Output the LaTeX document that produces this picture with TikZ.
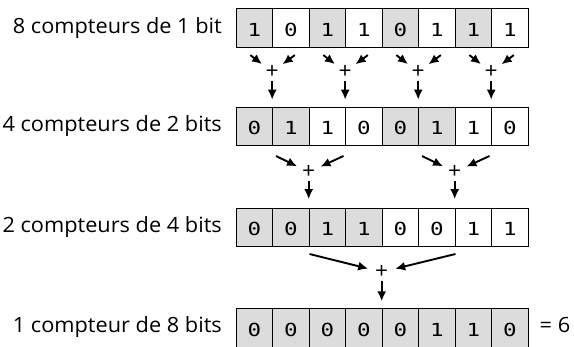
\documentclass[tikz,border=0pt]{standalone}
\usepackage{fontspec}
\setmainfont[FakeStretch=1.035]{Open Sans}
\newfontfamily\bitfont[FakeStretch=1.25]{DejaVu Sans Mono}
\usetikzlibrary{arrows.meta}
\definecolor{cellgrey}{RGB}{220,220,220}
\begin{document}
\begin{tikzpicture}[x=1pt,y=-1pt]
\tikzset{
  cell/.style={draw=black, line width=0.8pt, anchor=north west,
    minimum width=36.5pt, minimum height=38.5pt, inner sep=0pt,
    text height=17pt, text depth=0pt,
    font=\bitfont\fontsize{18}{18}\selectfont},
  lbl/.style={anchor=base east, inner sep=0pt,
    font=\fontsize{21}{21}\selectfont},
  plus/.style={circle, inner sep=0pt, minimum size=18pt,
    font=\fontsize{22}{22}\selectfont},
  arr/.style={-{Latex[length=10pt,width=9pt]}, line width=1.9pt},
}
\useasboundingbox (0,0) rectangle (574,347);

% four registers of 8 cells; shading marks the counter groups
\foreach \r/\g/\ytop/\bits in {1/1/8.3/{1,0,1,1,0,1,1,1},
                               2/2/106.7/{0,1,1,0,0,1,1,0},
                               3/4/207.7/{0,0,1,1,0,0,1,1},
                               4/8/308.3/{0,0,0,0,0,1,1,0}}{
  \foreach \b [count=\i from 0] in \bits {
    \pgfmathtruncatemacro\odd{mod(floor(\i/\g),2)}
    \ifnum\odd=0 \def\cf{cellgrey}\else\def\cf{white}\fi
    \node[cell, fill=\cf] (c\r-\i) at ({235.7+36.5*\i}, \ytop) {\b};
  }
}

% row labels
\node[lbl] (l1) at (222, 33.2) {8 compteurs de 1 bit};
\node[lbl] (l2) at (222, 131.4) {4 compteurs de 2 bits};
\node[lbl] (l3) at (222, 232.4) {2 compteurs de 4 bits};
\node[lbl] (l4) at (222, 333.0) {1 compteur de 8 bits};
\node[anchor=base west, inner sep=0pt, font=\fontsize{21}{21}\selectfont]
  (res) at (539.5, 333.0) {= 6};

% adders
\foreach \k in {0,...,3} {
  \node[plus] (p1-\k) at ({272.2+73*\k}, 72) {+};
}
\foreach \k in {0,1} {
  \node[plus] (p2-\k) at ({308.7+146*\k}, 172) {+};
}
\node[plus] (p3-0) at (381.7, 272) {+};

% level 1: pairs of 1-bit counters
\foreach \k in {0,...,3} {
  \pgfmathtruncatemacro\ia{2*\k}
  \pgfmathtruncatemacro\ib{2*\k+1}
  \coordinate (t1a-\k) at ([shift={(-4,7.5)}]c1-\ia.south);
  \coordinate (t1b-\k) at ([shift={(4,7.5)}]c1-\ib.south);
  \draw[arr, shorten >=3.5pt] (t1a-\k) -- (p1-\k);
  \draw[arr, shorten >=3.5pt] (t1b-\k) -- (p1-\k);
  \draw[arr, shorten >=7pt] (p1-\k) -- (c2-\ib.north west);
}

% level 2: pairs of 2-bit counters
\foreach \k in {0,1} {
  \pgfmathtruncatemacro\ia{4*\k}
  \pgfmathtruncatemacro\ib{4*\k+2}
  \coordinate (t2a-\k) at ([shift={(3,10)}]c2-\ia.south east);
  \coordinate (t2b-\k) at ([shift={(-2.5,10)}]c2-\ib.south east);
  \draw[arr, shorten >=3.5pt] (t2a-\k) -- (p2-\k);
  \draw[arr, shorten >=3.5pt] (t2b-\k) -- (p2-\k);
  \draw[arr, shorten >=8.5pt] (p2-\k) -- (c3-\ib.north west);
}

% level 3: the two 4-bit counters
\coordinate (t3a) at ([shift={(0,7)}]c3-1.south east);
\coordinate (t3b) at ([shift={(0,7)}]c3-5.south east);
\draw[arr, shorten >=4.5pt] (t3a) -- (p3-0);
\draw[arr, shorten >=4.5pt] (t3b) -- (p3-0);
\draw[arr, shorten >=7pt] (p3-0) -- (c4-4.north west);
\end{tikzpicture}
\end{document}
